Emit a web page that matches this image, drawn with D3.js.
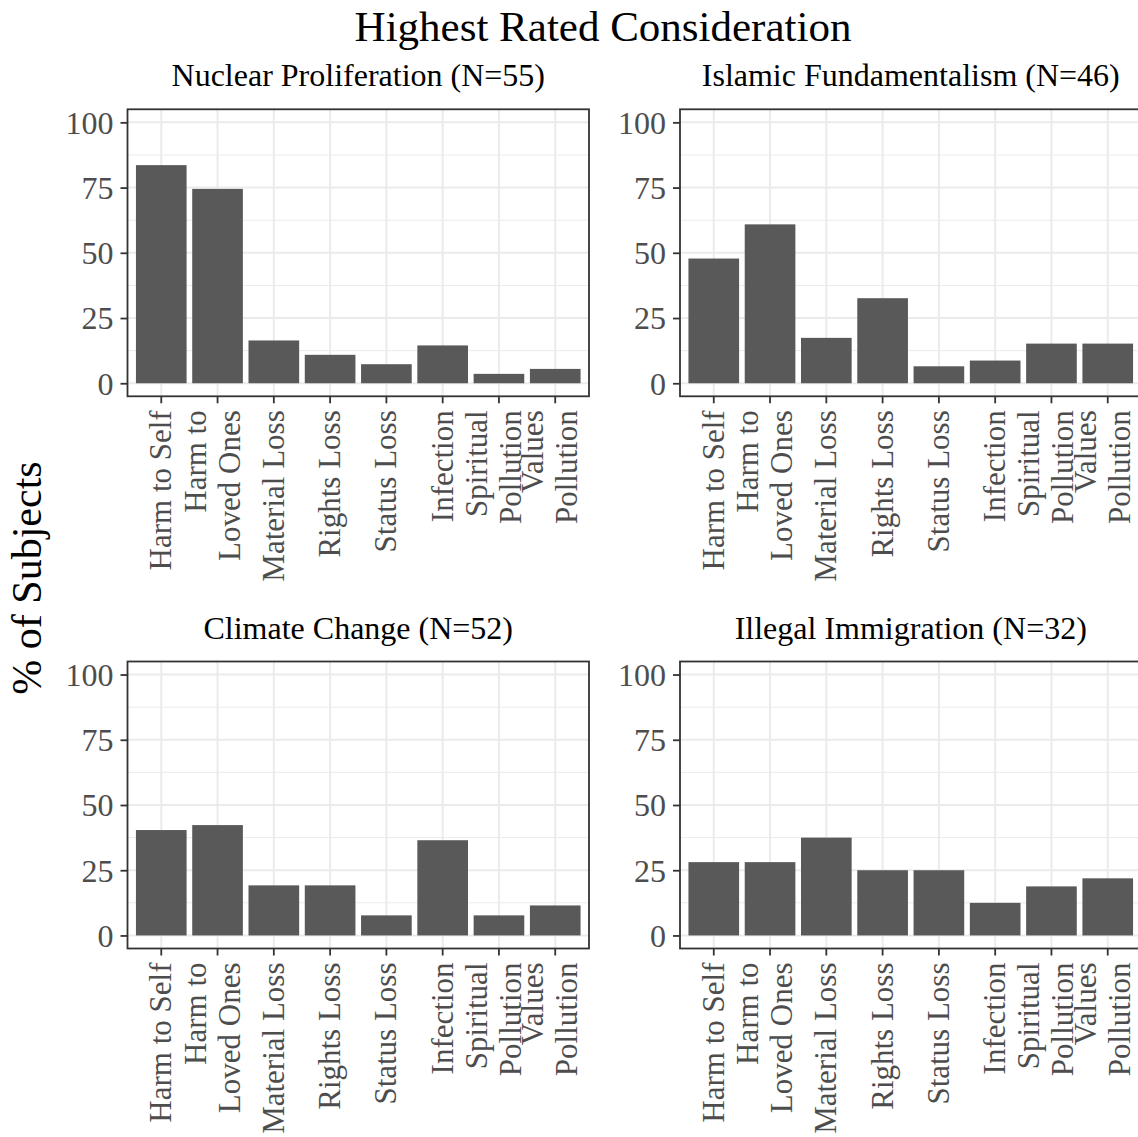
<!DOCTYPE html>
<html>
<head>
<meta charset="utf-8">
<script src="https://cdn.jsdelivr.net/npm/d3@7"></script>
<style>
  body { margin: 0; background: #fff; }
  svg { display: block; font-family: 'Liberation Serif', 'Times New Roman', serif; }
</style>
</head>
<body>
<script>
// categories shown on every panel, in order
var categories = ['Harm to Self', 'Harm to\nLoved Ones', 'Material Loss', 'Rights Loss',
  'Status Loss', 'Infection', 'Spiritual\nPollution', 'Values\nPollution'];

// % of subjects per category, one array per issue
var nuclear = [83.6, 74.5, 16.4, 10.9, 7.3, 14.5, 3.6, 5.5];
var islamic = [47.8, 60.9, 17.4, 32.6, 6.5, 8.7, 15.2, 15.2];
var climate = [40.4, 42.3, 19.2, 19.2, 7.7, 36.5, 7.7, 11.5];
var immigration = [28.1, 28.1, 37.5, 25.0, 25.0, 12.5, 18.8, 21.9];

var panelTitles = ['Nuclear Proliferation (N=55)', 'Islamic Fundamentalism (N=46)',
  'Climate Change (N=52)', 'Illegal Immigration (N=32)'];
var yTicks = [0, 25, 50, 75, 100];
var yMinor = [12.5, 37.5, 62.5, 87.5];

var width = 1138, height = 1137;
var panelW = 461.5, panelH = 287;
var colX = [127.5, 680];
var rowY = [109.3, 661.5];

var svg = d3.select('body').append('svg')
  .attr('width', width)
  .attr('height', height);

svg.append('rect').attr('width', width).attr('height', height).attr('fill', '#fff');

// main title + shared y label
svg.append('text')
  .attr('x', 603).attr('y', 41)
  .attr('text-anchor', 'middle')
  .style('font-size', '43px')
  .attr('fill', '#000')
  .text('Highest Rated Consideration');

svg.append('text')
  .attr('transform', 'translate(41,578) rotate(-90)')
  .attr('text-anchor', 'middle')
  .style('font-size', '42px')
  .attr('fill', '#000')
  .text('% of Subjects');

var x = d3.scaleBand()
  .domain(categories)
  .range([0, panelW])
  .paddingInner(0.1)
  .paddingOuter(0.15);

var y = d3.scaleLinear()
  .domain([-5, 105])
  .range([panelH, 0]);

var series = [nuclear, islamic, climate, immigration];

series.forEach(function(values, k) {
  var px = colX[k % 2], py = rowY[Math.floor(k / 2)];
  var g = svg.append('g').attr('transform', 'translate(' + px + ',' + py + ')');

  g.append('text')
    .attr('x', panelW / 2).attr('y', -23)
    .attr('text-anchor', 'middle')
    .style('font-size', '32px')
    .attr('fill', '#000')
    .text(panelTitles[k]);

  // grid
  g.selectAll('line.minor').data(yMinor).enter().append('line')
    .attr('x1', 0).attr('x2', panelW)
    .attr('y1', function(d) { return y(d); }).attr('y2', function(d) { return y(d); })
    .style('stroke', '#EBEBEB').style('stroke-width', 1);

  g.selectAll('line.majory').data(yTicks).enter().append('line')
    .attr('x1', 0).attr('x2', panelW)
    .attr('y1', function(d) { return y(d); }).attr('y2', function(d) { return y(d); })
    .style('stroke', '#EBEBEB').style('stroke-width', 2);

  g.selectAll('line.majorx').data(categories).enter().append('line')
    .attr('x1', function(d) { return x(d) + x.bandwidth() / 2; })
    .attr('x2', function(d) { return x(d) + x.bandwidth() / 2; })
    .attr('y1', 0).attr('y2', panelH)
    .style('stroke', '#EBEBEB').style('stroke-width', 2);

  // bars
  g.selectAll('rect.bar').data(values).enter().append('rect')
    .attr('x', function(d, i) { return x(categories[i]); })
    .attr('width', x.bandwidth())
    .attr('y', function(d) { return y(d); })
    .attr('height', function(d) { return y(0) - y(d); })
    .attr('fill', '#595959');

  g.append('rect')
    .attr('width', panelW).attr('height', panelH)
    .attr('fill', 'none')
    .style('stroke', '#333333').style('stroke-width', 1.8);

  // axes
  var yAxis = g.append('g')
    .call(d3.axisLeft(y).tickValues(yTicks).tickSize(7).tickPadding(7));
  yAxis.select('.domain').remove();
  yAxis.selectAll('line').style('stroke', '#333333').style('stroke-width', 1.8);
  yAxis.selectAll('text')
    .style('font-size', '32px')
    .style('font-family', "'Liberation Serif', 'Times New Roman', serif")
    .attr('fill', '#4D4D4D')
    .attr('dy', '0.34em');

  var xAxis = g.append('g')
    .attr('transform', 'translate(0,' + panelH + ')')
    .call(d3.axisBottom(x).tickSize(7));
  xAxis.select('.domain').remove();
  xAxis.selectAll('line').style('stroke', '#333333').style('stroke-width', 1.8);
  xAxis.selectAll('text').each(function(d) {
    var t = d3.select(this);
    var lines = d.split('\n');
    t.text(null)
      .attr('x', null).attr('y', null).attr('dy', null)
      .attr('transform', 'rotate(-90)')
      .attr('text-anchor', 'end')
      .style('font-size', '31px')
      .style('font-family', "'Liberation Serif', 'Times New Roman', serif")
      .attr('fill', '#4D4D4D');
    var offs = lines.length === 1 ? [10] : [-12, 22];
    lines.forEach(function(s, j) {
      t.append('tspan').attr('x', -14).attr('y', offs[j]).text(s);
    });
  });
});
</script>
</body>
</html>
